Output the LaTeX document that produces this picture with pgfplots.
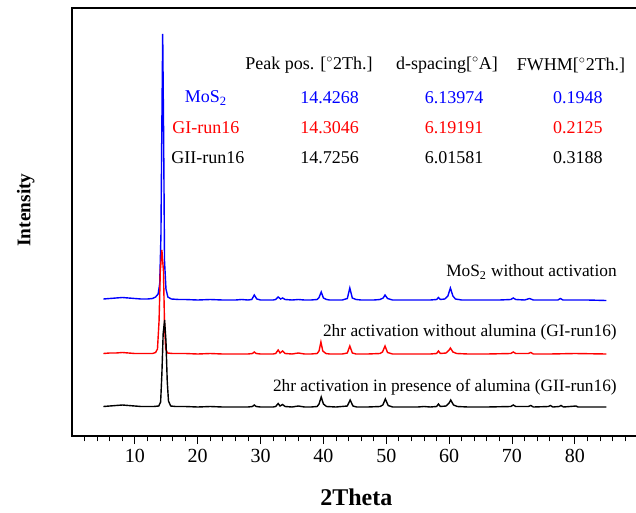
\documentclass[border=0pt]{standalone}
\usepackage{fontspec}
\setmainfont{Liberation Serif}
\usepackage{pgfplots}
\pgfplotsset{compat=1.18}
\definecolor{XBlue}{RGB}{0,0,255}
\definecolor{XRed}{RGB}{255,0,0}
\begin{document}
\begin{tikzpicture}
\path[use as bounding box] (-54pt,-57pt) rectangle (423pt,327pt);
\begin{axis}[
  at={(0,0)},anchor=south west,
  scale only axis,width=429pt,height=321pt,
  xmin=0,xmax=91,ymin=0,ymax=428,
  xtick={10,20,...,80},minor xtick={2,4,...,88},
  ytick=\empty,
  xtick pos=bottom,tick align=outside,
  major tick length=6pt,minor tick length=4pt,
  every tick/.style={black,line width=0.6pt},
  axis line style={line width=0.8pt},
  /pgf/number format/assume math mode=true,
  tick label style={font=\fontsize{15}{18}\selectfont},
  xlabel={2Theta},ylabel={Intensity},
  xlabel style={font=\fontsize{18}{21}\selectfont\bfseries,at={(axis description cs:0.497,0)},anchor=center,yshift=-46pt},
  ylabel style={font=\fontsize{14.5}{17}\selectfont\bfseries,at={(axis description cs:-0.081,0.528)},anchor=center},
  clip=false,
]
% MoS2 without activation
\addplot[XBlue,line width=1.05pt] coordinates {
(5,137)(6,137.5)(7,138)(8,138.5)(9,138)(10,137.5)(11,137)(12,137)(12.8,137.5)(13.3,139)(13.7,142)(13.95,152)(14.15,200)(14.28,300)(14.43,402)(14.58,300)(14.72,175)(14.95,147)(15.25,139)(15.8,137)(17,136.5)(18,136.5)(20,136)(22,136.5)(24,136)(26,136)(27,136.5)(28,136)(28.6,136.5)(29,141)(29.4,137)(30,136)(31,136)(32,136)(32.4,136.5)(32.8,139)(33.2,137)(33.5,138)(33.9,136.5)(35,136)(36,136.5)(37,136)(38,136)(39,136.5)(39.3,138.5)(39.65,144)(40,138)(40.5,136.5)(41,136)(42,136)(43,136)(43.8,137.5)(44.2,148)(44.6,138)(45.2,136.5)(46,136)(47,136)(48,136)(49,136.5)(49.5,138)(49.8,141)(50.2,137.5)(51,136)(52,136)(54,136)(56,136)(57,136)(58,136.5)(58.3,138.5)(58.6,136.5)(59.3,137)(59.8,140)(60.2,148)(60.6,140)(61,137)(62,136)(64,136)(66,136)(68,136)(69.8,136.5)(70.2,138)(70.6,136.5)(72,136)(72.8,137.5)(73.4,136)(75,136)(77.3,136)(77.7,137.5)(78.1,136)(80,136)(82,136)(85,135.5)
};
% GI-run16
\addplot[XRed,line width=1.05pt] coordinates {
(5,82.5)(6,83)(7,83)(8,83.5)(9,83)(10,82.5)(11,82.5)(12,82.5)(12.8,82.5)(13.3,83.5)(13.6,87)(13.85,115)(14.05,165)(14.3,186)(14.55,165)(14.72,112)(14.9,87)(15.2,83)(16,82.5)(18,82.5)(20,82)(22,82.5)(24,82)(26,82)(28,82)(28.7,82.5)(29,84)(29.3,82.5)(30,82)(32,82)(32.4,82.5)(32.8,86)(33.1,83)(33.5,85)(33.9,82.5)(35,82)(36,83)(37,82)(38,82)(39,82.5)(39.3,85)(39.6,94)(39.9,85)(40.4,82.5)(41,82)(43,82)(43.8,83)(44.2,90)(44.6,83)(45.2,82)(47,82)(49,82.5)(49.4,84)(49.8,90)(50.2,83.5)(51,82)(53,82)(55,82)(57,82)(58,82.5)(58.3,85)(58.6,82.5)(59.5,83)(60.0,86)(60.2,88)(60.6,84)(61.2,82.5)(63,82)(66,82)(69.8,82.5)(70.2,84)(70.6,82.5)(72.6,82.5)(73,83.5)(73.4,82)(76,82)(80,82.5)(85,82)
};
% GII-run16
\addplot[black,line width=1.05pt] coordinates {
(5,29.5)(6,30)(7,30.5)(8,31)(9,30.5)(10,30)(11,29.5)(12,29.5)(13,29.5)(13.8,30)(14.1,34)(14.3,62)(14.5,102)(14.73,116)(14.95,95)(15.15,55)(15.35,35)(15.7,30)(16.5,29.5)(18,29.5)(20,29)(22,29.5)(24,29)(26,29)(28,29)(28.7,29.5)(29,31)(29.3,29.5)(30,29)(32,29)(32.4,29.5)(32.8,32.5)(33.1,30)(33.5,31.5)(33.9,29.5)(35,29)(36,30)(37,29)(38,29)(39,29.5)(39.3,32)(39.65,39)(40,32)(40.5,29.5)(42,29)(43.8,30)(44.25,36)(44.7,30)(45.3,29)(47,29)(49,29.5)(49.45,31)(49.85,37)(50.3,30.5)(51,29)(53,29)(55,29)(56,29.5)(57,29)(58,29.5)(58.3,32)(58.6,29.5)(59.5,30)(60.0,33)(60.25,36)(60.7,31)(61.3,29.5)(63,29)(66,29)(69.8,29.5)(70.2,31)(70.6,29.5)(72.6,29.5)(73,30.5)(73.4,29)(75.8,29.5)(76.1,30.5)(76.5,29)(77.5,29.5)(77.8,30.5)(78.2,29)(80.2,30)(80.5,29)(85,29)
};
% table of peak data
\begin{scope}[every node/.style={font=\fontsize{13.5}{16}\selectfont,inner sep=0pt}]
\node at (axis cs:37.7,371) {Peak pos. [$^{\circ}$2Th.]};
\node at (axis cs:59.66,371) {d-spacing[$^{\circ}$A]};
\node at (axis cs:79.4,371) {FWHM[$^{\circ}$2Th.]};
\node[XBlue] at (axis cs:21.3,338) {MoS\textsubscript{2}};
\node[XBlue] at (axis cs:41.0,338) {14.4268};
\node[XBlue] at (axis cs:60.8,338) {6.13974};
\node[XBlue] at (axis cs:80.5,338) {0.1948};
\node[XRed] at (axis cs:21.3,308) {GI-run16};
\node[XRed] at (axis cs:41.0,308) {14.3046};
\node[XRed] at (axis cs:60.8,308) {6.19191};
\node[XRed] at (axis cs:80.5,308) {0.2125};
\node at (axis cs:21.6,278) {GII-run16};
\node at (axis cs:41.0,278) {14.7256};
\node at (axis cs:60.8,278) {6.01581};
\node at (axis cs:80.5,278) {0.3188};
\end{scope}
\begin{scope}[every node/.style={font=\fontsize{13}{15}\selectfont,inner sep=0pt,anchor=east}]
\node at (axis cs:86.7,164) {MoS\textsubscript{2} without activation};
\node at (axis cs:86.7,104) {2hr activation without alumina (GI-run16)};
\node at (axis cs:86.7,49) {2hr activation in presence of alumina (GII-run16)};
\end{scope}
\end{axis}
\end{tikzpicture}
\end{document}
